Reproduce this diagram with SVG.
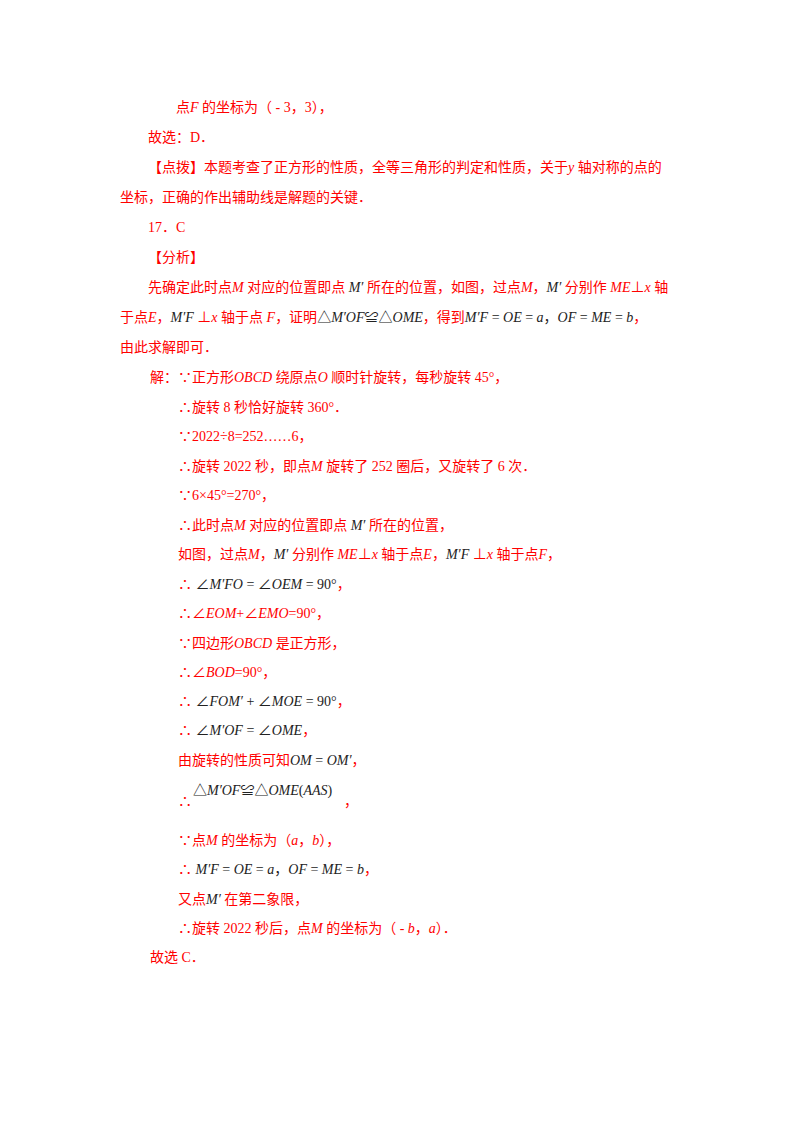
<svg xmlns="http://www.w3.org/2000/svg" width="800" height="1132" viewBox="0 0 800 1132">
<style>
text{font-family:"Liberation Serif","Noto Sans CJK SC",serif;font-size:14px;fill:#ff0000}
.b{fill:#222}
.i{font-style:italic}
</style>
<rect width="800" height="1132" fill="#fff"/>
<g id="text">
<text x="176" y="112">点<tspan class="i">F</tspan> 的坐标为（ - 3，3），</text>
<text x="148" y="142">故选：D．</text>
<text x="148" y="172">【点拨】本题考查了正方形的性质，全等三角形的判定和性质，关于<tspan class="i">y</tspan> 轴对称的点的</text>
<text x="120" y="202">坐标，正确的作出辅助线是解题的关键．</text>
<text x="148" y="232">17．C</text>
<text x="148" y="262">【分析】</text>
<text x="148" y="292">先确定此时点<tspan class="i">M</tspan> 对应的位置即点 <tspan class="b i">M′</tspan> 所在的位置，如图，过点<tspan class="i">M</tspan>，<tspan class="b i">M′</tspan> 分别作 <tspan class="i">ME</tspan>⊥<tspan class="i">x</tspan> 轴</text>
<text x="120" y="322">于点<tspan class="i">E</tspan>，<tspan class="b i">M′F</tspan> ⊥<tspan class="i">x</tspan> 轴于点 <tspan class="i">F</tspan>，证明<tspan class="b">△<tspan class="i">M′OF</tspan>≌△<tspan class="i">OME</tspan></tspan>，得到<tspan class="b"><tspan class="i">M′F</tspan> = <tspan class="i">OE</tspan> = <tspan class="i">a</tspan>，<tspan class="i">OF</tspan> = <tspan class="i">ME</tspan> = <tspan class="i">b</tspan></tspan>，</text>
<text x="120" y="352">由此求解即可．</text>
<text x="150" y="382">解：∵正方形<tspan class="i">OBCD</tspan> 绕原点<tspan class="i">O</tspan> 顺时针旋转，每秒旋转 45°，</text>
<text x="178" y="412">∴旋转 8 秒恰好旋转 360°．</text>
<text x="178" y="441">∵2022÷8=252……6，</text>
<text x="178" y="471">∴旋转 2022 秒，即点<tspan class="i">M</tspan> 旋转了 252 圈后，又旋转了 6 次．</text>
<text x="178" y="500">∵6×45°=270°，</text>
<text x="178" y="530">∴此时点<tspan class="i">M</tspan> 对应的位置即点 <tspan class="b i">M′</tspan> 所在的位置，</text>
<text x="178" y="559">如图，过点<tspan class="i">M</tspan>，<tspan class="b i">M′</tspan> 分别作 <tspan class="i">ME</tspan>⊥<tspan class="i">x</tspan> 轴于点<tspan class="i">E</tspan>，<tspan class="b i">M′F</tspan> ⊥<tspan class="i">x</tspan> 轴于点<tspan class="i">F</tspan>，</text>
<text x="178" y="589">∴ <tspan class="b">∠<tspan class="i">M′FO</tspan> = ∠<tspan class="i">OEM</tspan> = 90°</tspan>，</text>
<text x="178" y="618">∴∠<tspan class="i">EOM</tspan>+∠<tspan class="i">EMO</tspan>=90°，</text>
<text x="178" y="648">∵四边形<tspan class="i">OBCD</tspan> 是正方形，</text>
<text x="178" y="677">∴∠<tspan class="i">BOD</tspan>=90°，</text>
<text x="178" y="706">∴ <tspan class="b">∠<tspan class="i">FOM′</tspan> + ∠<tspan class="i">MOE</tspan> = 90°</tspan>，</text>
<text x="178" y="735">∴ <tspan class="b">∠<tspan class="i">M′OF</tspan> = ∠<tspan class="i">OME</tspan></tspan>，</text>
<text x="178" y="765">由旋转的性质可知<tspan class="b i">OM</tspan><tspan class="b"> = </tspan><tspan class="b i">OM′</tspan>，</text>
<text x="178" y="806">∴</text>
<text x="193" y="795" class="b">△<tspan class="i">M′OF</tspan>≌△<tspan class="i">OME</tspan>(<tspan class="i">AAS</tspan>)</text>
<text x="344" y="806">，</text>
<text x="178" y="845">∵点<tspan class="i">M</tspan> 的坐标为（<tspan class="i">a</tspan>，<tspan class="i">b</tspan>），</text>
<text x="178" y="874">∴ <tspan class="b"><tspan class="i">M′F</tspan> = <tspan class="i">OE</tspan> = <tspan class="i">a</tspan>，<tspan class="i">OF</tspan> = <tspan class="i">ME</tspan> = <tspan class="i">b</tspan></tspan>，</text>
<text x="178" y="904">又点<tspan class="b i">M′</tspan> 在第二象限，</text>
<text x="178" y="933">∴旋转 2022 秒后，点<tspan class="i">M</tspan> 的坐标为（ - <tspan class="i">b</tspan>，<tspan class="i">a</tspan>）．</text>
<text x="150" y="962">故选 C．</text>
</g>
</svg>
